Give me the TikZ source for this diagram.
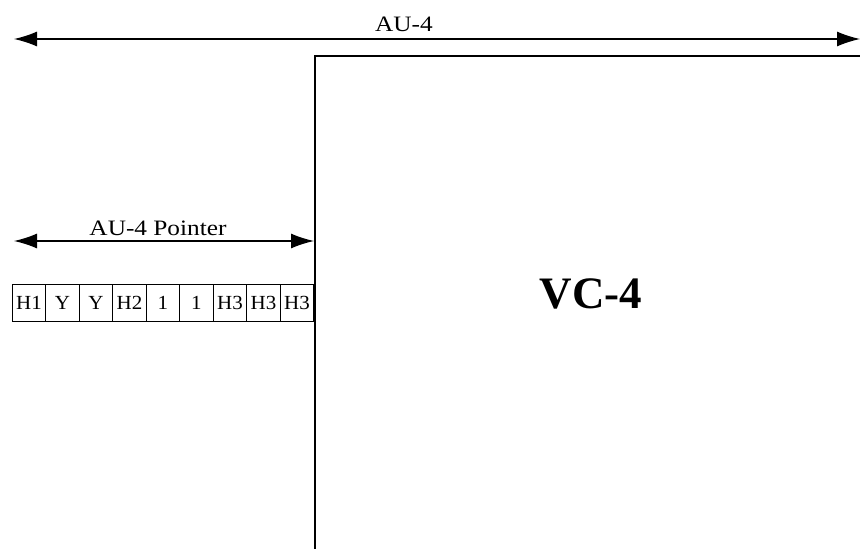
\documentclass[tikz,border=0pt]{standalone}
\usepackage{fontspec}
\setmainfont{Liberation Serif}
\newfontfamily\lblfont[FakeStretch=1.15]{Liberation Serif}
\newfontfamily\cellfont[FakeStretch=1.05]{Liberation Serif}
\usetikzlibrary{arrows.meta}
\begin{document}
\begin{tikzpicture}[x=1pt,y=-1pt,
  dimarrow/.style={line width=1.2pt,{Latex[length=23pt,width=15pt]}-{Latex[length=23pt,width=15pt]}},
  lbl/.style={font=\lblfont\fontsize{22}{22}\selectfont,inner sep=0pt,anchor=base},
  cell/.style={draw,line width=1pt,minimum width=33.5pt,minimum height=36.5pt,inner sep=0pt,
    font=\cellfont\fontsize{20}{20}\selectfont,anchor=north west}]
\useasboundingbox (0,0) rectangle (860,549);
\fill[white] (0,0) rectangle (860,549);
% AU-4 arrow
\coordinate (auL) at (14,39);
\coordinate (auR) at (860,39);
\draw[dimarrow] (auL) -- (auR);
\node[lbl] (aulbl) at (404,31) {AU-4};
% VC-4 box (open to right and bottom)
\coordinate (boxB) at (315,549);
\coordinate (boxTL) at (315,56);
\coordinate (boxTR) at (860,56);
\draw[line width=1.3pt] (boxB) -- (boxTL) -- (boxTR);
\node[font=\bfseries\fontsize{45}{45}\selectfont,inner sep=0pt] (vc) at (591,294) {VC-4};
% Pointer arrow
\coordinate (pL) at (14,241);
\coordinate (pR) at (314,241);
\draw[dimarrow] (pL) -- (pR);
\node[lbl] (plbl) at (158,235) {AU-4 Pointer};
% cells
\foreach \t [count=\i] in {H1,Y,Y,H2,1,1,H3,H3,H3}{
  \node[cell] (c\i) at ({11.7+(\i-1)*33.5},284) {\t};
}
\end{tikzpicture}
\end{document}
